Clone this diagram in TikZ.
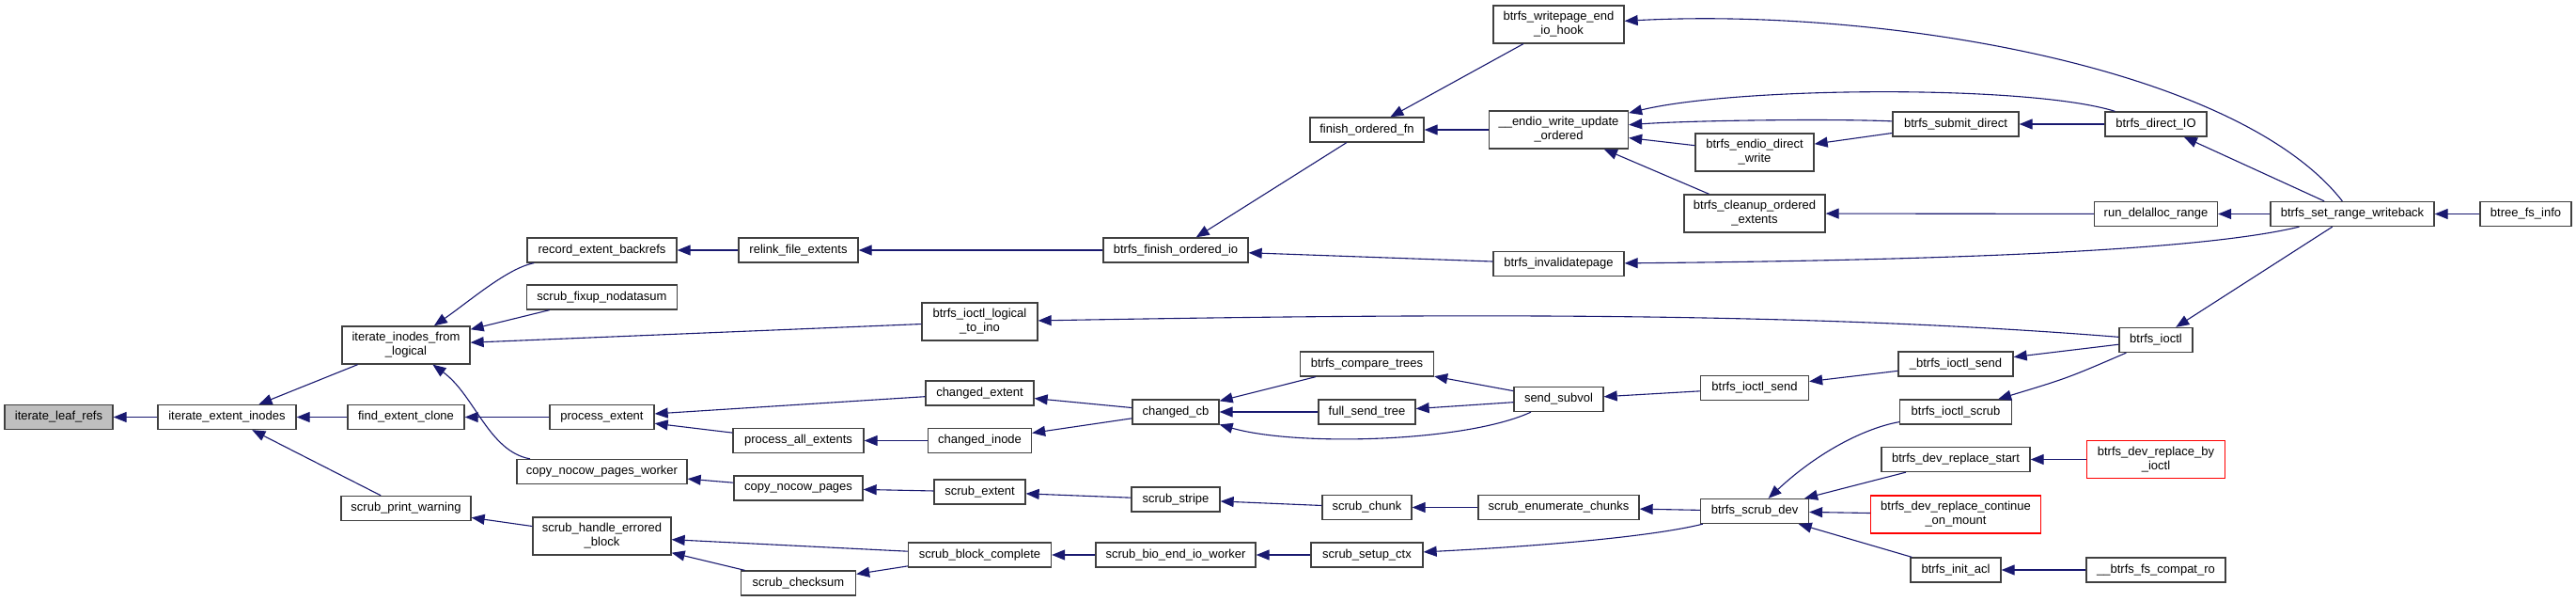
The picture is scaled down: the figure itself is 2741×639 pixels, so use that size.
\documentclass[tikz,border=0pt]{standalone}
\usepackage{fontspec}
\setmainfont{Liberation Sans}
\usetikzlibrary{arrows.meta}
\definecolor{cgEdge} {RGB}{ 25, 25,112}
\definecolor{cgLine} {RGB}{ 64, 64, 64}
\definecolor{cgRoot} {RGB}{191,191,191}
\definecolor{cgTrunc}{RGB}{255,  0,  0}

\begin{document}
\begin{tikzpicture}[x=1pt,y=-1pt,
  every node/.style={font=\fontsize{13}{15}\selectfont},
  fn/.style   ={draw=cgLine,line width=1.3pt,fill=white,align=center,
                inner sep=0pt,minimum height=26pt},
  fntwo/.style={fn,minimum height=40pt},
  root/.style ={fn,fill=cgRoot},
  trunc/.style={fntwo,draw=cgTrunc},
  call/.style ={draw=cgEdge,line width=1.1pt,
                {Triangle[length=14pt,width=11pt]}-}
]
\fill[white] (0,0) rectangle (2741,639);
\useasboundingbox (0,0) rectangle (2741,639);
% rank 0-2: the function and its direct callers
\node[root,minimum width=115pt] (ilr) at (62.5,443.5) {iterate\_leaf\_refs};
\node[fn,minimum width=147pt] (iei) at (241.5,443.5) {iterate\_extent\_inodes};
\node[fntwo,minimum width=136pt] (iifl) at (432,367) {iterate\_inodes\_from\\\_logical};
\node[fn,minimum width=124pt] (fec) at (432,443.5) {find\_extent\_clone};
\node[fn,minimum width=138pt] (spw) at (432,540.5) {scrub\_print\_warning};
% rank 3
\node[fn,minimum width=159pt] (reb) at (640.5,266) {record\_extent\_backrefs};
\node[fn,minimum width=160pt] (sfn) at (640.5,316) {scrub\_fixup\_nodatasum};
\node[fn,minimum width=111pt] (pe) at (640.5,443.5) {process\_extent};
\node[fn,minimum width=181pt] (cnpw) at (640.5,501.5) {copy\_nocow\_pages\_worker};
\node[fntwo,minimum width=147pt] (sheb) at (640.5,570) {scrub\_handle\_errored\\\_block};
% rank 4
\node[fn,minimum width=127pt] (rfe) at (849.5,266) {relink\_file\_extents};
\node[fn,minimum width=139pt] (pae) at (849.5,468.5) {process\_all\_extents};
\node[fn,minimum width=137pt] (cnp) at (849.5,519) {copy\_nocow\_pages};
\node[fn,minimum width=122pt] (scs) at (849.5,620) {scrub\_checksum};
% rank 5
\node[fntwo,minimum width=123pt] (bioli) at (1042.5,342) {btrfs\_ioctl\_logical\\\_to\_ino};
\node[fn,minimum width=115pt] (ce) at (1042.5,418) {changed\_extent};
\node[fn,minimum width=110pt] (ci) at (1042.5,468.5) {changed\_inode};
\node[fn,minimum width=97pt] (se) at (1042.5,523) {scrub\_extent};
\node[fn,minimum width=152pt] (sbc) at (1042.5,590) {scrub\_block\_complete};
% rank 6
\node[fn,minimum width=154pt] (bfoi) at (1251,266) {btrfs\_finish\_ordered\_io};
\node[fn,minimum width=92pt] (ccb) at (1251,438) {changed\_cb};
\node[fn,minimum width=94pt] (sst) at (1251,531) {scrub\_stripe};
\node[fn,minimum width=170pt] (sbeiw) at (1251,590) {scrub\_bio\_end\_io\_worker};
% rank 7
\node[fn,minimum width=121pt] (fof) at (1454.5,138) {finish\_ordered\_fn};
\node[fn,minimum width=142pt] (bct) at (1454.5,387) {btrfs\_compare\_trees};
\node[fn,minimum width=103pt] (fst) at (1454.5,438) {full\_send\_tree};
\node[fn,minimum width=95pt] (sch) at (1454.5,539.5) {scrub\_chunk};
\node[fn,minimum width=119pt] (ssc) at (1454.5,590) {scrub\_setup\_ctx};
% rank 8
\node[fntwo,minimum width=139pt] (bweih) at (1658.5,26) {btrfs\_writepage\_end\\\_io\_hook};
\node[fntwo,minimum width=148pt] (ewuo) at (1658.5,138) {\_\_endio\_write\_update\\\_ordered};
\node[fn,minimum width=139pt] (bip) at (1658.5,280.5) {btrfs\_invalidatepage};
\node[fn,minimum width=95pt] (ssv) at (1658.5,424.5) {send\_subvol};
\node[fn,minimum width=171pt] (sec) at (1658.5,539.5) {scrub\_enumerate\_chunks};
% rank 9
\node[fntwo,minimum width=126pt] (bedw) at (1867,162) {btrfs\_endio\_direct\\\_write};
\node[fntwo,minimum width=150pt] (bcoe) at (1867,227) {btrfs\_cleanup\_ordered\\\_extents};
\node[fn,minimum width=115pt] (bis) at (1867,412.5) {btrfs\_ioctl\_send};
\node[fn,minimum width=115pt] (bsd) at (1867,543.5) {btrfs\_scrub\_dev};
% rank 10
\node[fn,minimum width=134pt] (bsubd) at (2081,132) {btrfs\_submit\_direct};
\node[fn,minimum width=122pt] (ubis) at (2081,387) {\_btrfs\_ioctl\_send};
\node[fn,minimum width=119pt] (bisc) at (2081,438) {btrfs\_ioctl\_scrub};
\node[fn,minimum width=158pt] (bdrs) at (2081,488.5) {btrfs\_dev\_replace\_start};
\node[trunc,minimum width=181pt] (bdrcm) at (2081,547) {btrfs\_dev\_replace\_continue\\\_on\_mount};
\node[fn,minimum width=96pt] (bia) at (2081,606) {btrfs\_init\_acl};
% rank 11
\node[fn,minimum width=108pt] (bdio) at (2294,132) {btrfs\_direct\_IO};
\node[fn,minimum width=131pt] (rdr) at (2294,227.5) {run\_delalloc\_range};
\node[fn,minimum width=78pt] (bioctl) at (2294,361.5) {btrfs\_ioctl};
\node[trunc,minimum width=147pt] (bdrbi) at (2294,488.5) {btrfs\_dev\_replace\_by\\\_ioctl};
\node[fn,minimum width=148pt] (bfcr) at (2294,606) {\_\_btrfs\_fs\_compat\_ro};
% rank 12-13
\node[fn,minimum width=174pt] (bsrw) at (2503,227.5) {btrfs\_set\_range\_writeback};
\node[fn,minimum width=97pt] (bfi) at (2687.5,227.5) {btree\_fs\_info};

% calls (arrow head on the callee)
\draw[call] (ilr) -- (iei);
\draw[call] (iei) -- (iifl);
\draw[call] (iei) -- (fec);
\draw[call] (iei) -- (spw);
\draw[call] (iifl) .. controls (500,320) and (540,285) .. (reb);
\draw[call] (iifl) -- (sfn);
\draw[call] (iifl) -- (bioli);
\draw[call] (iifl) .. controls (505,420) and (520,480) .. (cnpw);
\draw[call] (fec) -- (pe);
\draw[call] (spw) -- (sheb);
\draw[call] (reb) -- (rfe);
\draw[call] (pe) -- (ce);
\draw[call] (pe) -- (pae);
\draw[call] (cnpw) -- (cnp);
\draw[call] (sheb) -- (sbc);
\draw[call] (sheb) -- (scs);
\draw[call] (rfe) -- (bfoi);
\draw[call] (pae) -- (ci);
\draw[call] (cnp) -- (se);
\draw[call] (scs) -- (sbc);
\draw[call] (bioli) .. controls (1500,334) and (1900,330) .. (bioctl);
\draw[call] (ce) -- (ccb);
\draw[call] (ci) -- (ccb);
\draw[call] (se) -- (sst);
\draw[call] (sbc) -- (sbeiw);
\draw[call] (bfoi) -- (fof);
\draw[call] (bfoi) -- (bip);
\draw[call] (ccb) -- (bct);
\draw[call] (ccb) -- (fst);
\draw[call] (ccb) .. controls (1380,475) and (1560,470) .. (ssv);
\draw[call] (sst) -- (sch);
\draw[call] (sbeiw) -- (ssc);
\draw[call] (fof) -- (bweih);
\draw[call] (fof) -- (ewuo);
\draw[call] (bct) -- (ssv);
\draw[call] (fst) -- (ssv);
\draw[call] (sch) -- (sec);
\draw[call] (ssc) .. controls (1650,580) and (1760,570) .. (bsd);
\draw[call] (bweih) .. controls (2000,8) and (2380,70) .. (bsrw);
\draw[call] (ewuo) .. controls (1850,92) and (2160,90) .. (bdio);
\draw[call] (ewuo) .. controls (1800,128) and (1950,126) .. (bsubd);
\draw[call] (ewuo) -- (bedw);
\draw[call] (ewuo) -- (bcoe);
\draw[call] (bip) .. controls (2150,276) and (2360,262) .. (bsrw);
\draw[call] (ssv) -- (bis);
\draw[call] (sec) -- (bsd);
\draw[call] (bedw) -- (bsubd);
\draw[call] (bcoe) -- (rdr);
\draw[call] (bis) -- (ubis);
\draw[call] (bsd) .. controls (1935,480) and (1985,455) .. (bisc);
\draw[call] (bsd) -- (bdrs);
\draw[call] (bsd) -- (bdrcm);
\draw[call] (bsd) -- (bia);
\draw[call] (bsubd) -- (bdio);
\draw[call] (ubis) -- (bioctl);
\draw[call] (bisc) .. controls (2200,402) .. (bioctl);
\draw[call] (bdrs) -- (bdrbi);
\draw[call] (bia) -- (bfcr);
\draw[call] (bdio) -- (bsrw);
\draw[call] (rdr) -- (bsrw);
\draw[call] (bioctl) -- (bsrw);
\draw[call] (bsrw) -- (bfi);
\end{tikzpicture}
\end{document}
